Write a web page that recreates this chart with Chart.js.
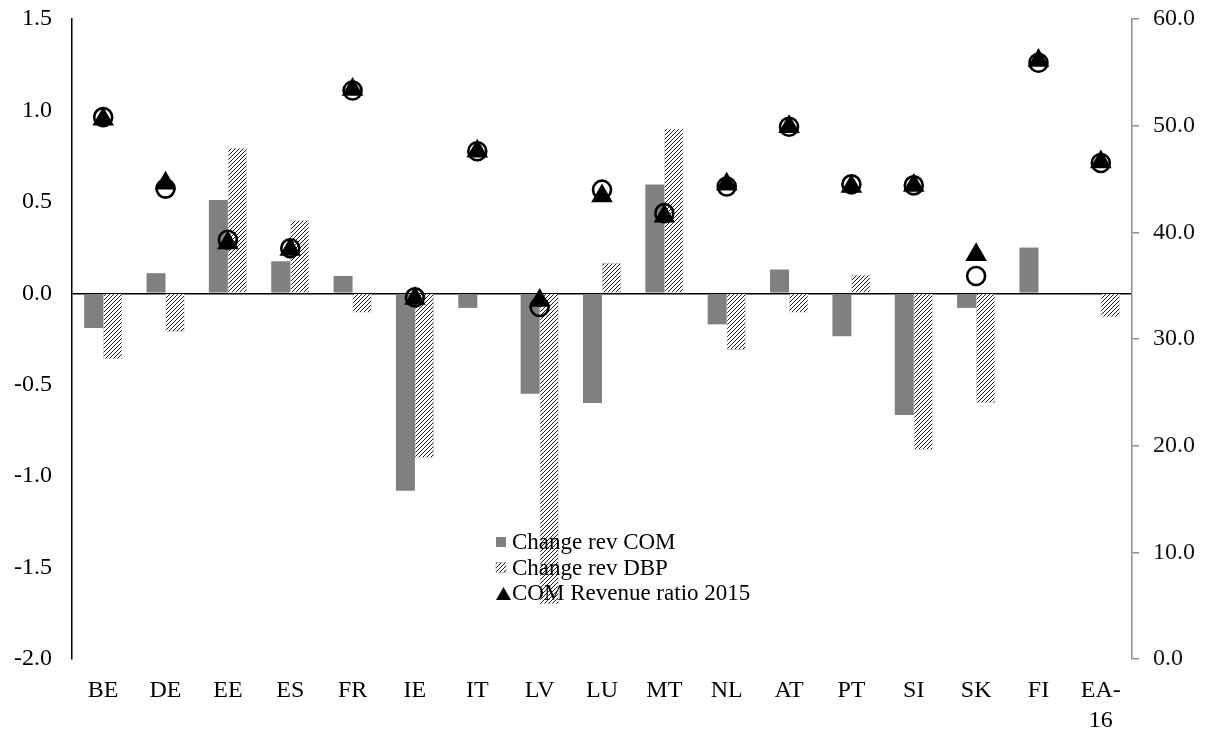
<!DOCTYPE html>
<html>
<head>
<meta charset="utf-8">
<script src="https://cdn.jsdelivr.net/npm/chart.js@4.4.1/dist/chart.umd.min.js"></script>
<style>
  html, body { margin: 0; padding: 0; background: #fff; }
  #wrap { width: 1210px; height: 729px; }
</style>
</head>
<body>
<div id="wrap"><canvas id="c" width="1210" height="729"></canvas></div>
<script>
// Countries (euro area members + aggregate)
const countries = ['BE','DE','EE','ES','FR','IE','IT','LV','LU','MT','NL','AT','PT','SI','SK','FI',['EA-','16']];

// Change in revenue ratio, pp (left axis)
const changeRevCOM = [-0.19, 0.11, 0.51, 0.175, 0.095, -1.08, -0.08, -0.55, -0.60, 0.595, -0.17, 0.13, -0.235, -0.665, -0.08, 0.25, -0.01];
const changeRevDBP = [-0.36, -0.21, 0.795, 0.40, -0.105, -0.90, 0, -1.70, 0.165, 0.90, -0.31, -0.105, 0.10, -0.855, -0.60, 0, -0.13];

// Revenue ratio 2015, % of GDP (right axis)
const comRevenueRatio2015 = [50.6, 44.6, 39.0, 38.4, 53.4, 33.8, 47.6, 33.6, 43.4, 41.5, 44.5, 49.9, 44.3, 44.4, 37.9, 56.1, 46.6];
const dbpRevenueRatio2015 = [50.8, 44.1, 39.3, 38.5, 53.3, 33.9, 47.6, 33.0, 44.0, 41.8, 44.3, 49.9, 44.5, 44.4, 35.9, 55.9, 46.5];

// Axis tick settings
const leftTicks = { min: -2.0, max: 1.5, step: 0.5 };
const rightTicks = { min: 0, max: 60, step: 10 };

const FONT = 'Liberation Serif, "Times New Roman", serif';

// Diagonal hatch fill for the DBP bars
function makeHatch() {
  const s = 4;
  const p = document.createElement('canvas');
  p.width = s; p.height = s;
  const g = p.getContext('2d');
  g.fillStyle = '#fff';
  g.fillRect(0, 0, s, s);
  g.strokeStyle = '#1a1a1a';
  g.lineWidth = 1;
  g.beginPath();
  g.moveTo(0, s); g.lineTo(s, 0);
  g.moveTo(-1, 1); g.lineTo(1, -1);
  g.moveTo(s - 1, s + 1); g.lineTo(s + 1, s - 1);
  g.stroke();
  return g.createPattern(p, 'repeat');
}
const hatch = makeHatch();

// Vertical axes: fixed width, no extra label overflow padding
function fixVertical(width) {
  return s => {
    s.width = width;
    s.paddingTop = 0;
    s.paddingBottom = 0;
  };
}

// Legend drawn inside the plot area, over the bars
const plotLegend = {
  id: 'plotLegend',
  afterDatasetsDraw(chart, args, opts) {
    const ctx = chart.ctx;
    const items = chart.data.datasets.filter(d => !d.hideFromLegend)
      .sort((a, b) => a.legendOrder - b.legendOrder);
    ctx.save();
    ctx.font = opts.fontSize + 'px ' + FONT;
    ctx.textBaseline = 'middle';
    ctx.fillStyle = '#000';
    let y = opts.top;
    items.forEach(ds => {
      const x = opts.left;
      if (ds.type === 'line') {
        ctx.beginPath();
        ctx.moveTo(x + 7.5, y - 7);
        ctx.lineTo(x + 15, y + 6);
        ctx.lineTo(x, y + 6);
        ctx.closePath();
        ctx.fillStyle = ds.backgroundColor;
        ctx.fill();
      } else {
        ctx.fillStyle = ds.backgroundColor;
        ctx.fillRect(x, y - 6, 10, 10);
        if (ds.borderWidth) {
          ctx.strokeStyle = '#999';
          ctx.lineWidth = 0.5;
          ctx.strokeRect(x, y - 6, 10, 10);
        }
      }
      ctx.fillStyle = '#000';
      ctx.fillText(ds.label, x + 16, y);
      y += opts.lineGap;
    });
    ctx.restore();
  }
};

new Chart(document.getElementById('c'), {
  data: {
    labels: countries,
    datasets: [
      {
        type: 'line',
        label: 'COM Revenue ratio 2015',
        data: comRevenueRatio2015,
        yAxisID: 'y1',
        showLine: false,
        pointStyle: 'triangle',
        pointRadius: 12.5,
        pointBackgroundColor: '#000',
        pointBorderColor: '#000',
        pointBorderWidth: 0,
        backgroundColor: '#000',
        order: 0,
        legendOrder: 3
      },
      {
        type: 'line',
        label: 'DBP Revenue ratio 2015',
        data: dbpRevenueRatio2015,
        yAxisID: 'y1',
        showLine: false,
        pointStyle: 'circle',
        pointRadius: 9,
        pointBackgroundColor: 'rgba(0,0,0,0)',
        pointBorderColor: '#000',
        pointBorderWidth: 2.6,
        hideFromLegend: true,
        order: 1
      },
      {
        type: 'bar',
        label: 'Change rev COM',
        data: changeRevCOM,
        yAxisID: 'y',
        backgroundColor: '#808080',
        borderWidth: 0,
        categoryPercentage: 0.61,
        barPercentage: 1.0,
        order: 2,
        legendOrder: 1
      },
      {
        type: 'bar',
        label: 'Change rev DBP',
        data: changeRevDBP,
        yAxisID: 'y',
        backgroundColor: hatch,
        borderColor: '#b0b0b0',
        borderWidth: 0.6,
        categoryPercentage: 0.61,
        barPercentage: 1.0,
        order: 3,
        legendOrder: 2
      }
    ]
  },
  options: {
    responsive: false,
    animation: false,
    devicePixelRatio: 1,
    layout: { padding: { top: 19, left: 0, right: 0, bottom: 0 } },
    plugins: {
      legend: { display: false },
      tooltip: { enabled: false },
      plotLegend: { left: 496, top: 543, lineGap: 25.5, fontSize: 23 }
    },
    scales: {
      x: {
        type: 'category',
        offset: true,
        border: { display: false },
        grid: { display: false, drawTicks: false },
        ticks: {
          color: '#000',
          padding: 17,
          maxRotation: 0,
          autoSkip: false,
          font: { family: FONT, size: 24, lineHeight: 1.25 }
        },
        afterFit: s => { s.height = 70; }
      },
      y: {
        position: 'left',
        min: leftTicks.min,
        max: leftTicks.max,
        border: { display: true, color: '#000', width: 1.5 },
        grid: {
          drawTicks: false,
          color: c => (c.tick && Math.abs(c.tick.value) < 1e-9) ? '#000' : 'rgba(0,0,0,0)',
          lineWidth: 1.5
        },
        ticks: {
          stepSize: leftTicks.step,
          color: '#000',
          padding: 20,
          font: { family: FONT, size: 24 },
          callback: v => Number(v).toFixed(1)
        },
        afterFit: fixVertical(72)
      },
      y1: {
        position: 'right',
        min: rightTicks.min,
        max: rightTicks.max,
        border: { display: true, color: '#8c8c8c', width: 1.5 },
        grid: {
          drawOnChartArea: false,
          drawTicks: true,
          tickLength: 7,
          color: '#8c8c8c',
          lineWidth: 1.5
        },
        ticks: {
          stepSize: rightTicks.step,
          color: '#111',
          padding: 14,
          font: { family: FONT, size: 24 },
          callback: v => Number(v).toFixed(1)
        },
        afterFit: fixVertical(78)
      }
    }
  },
  plugins: [plotLegend]
});
</script>
</body>
</html>
